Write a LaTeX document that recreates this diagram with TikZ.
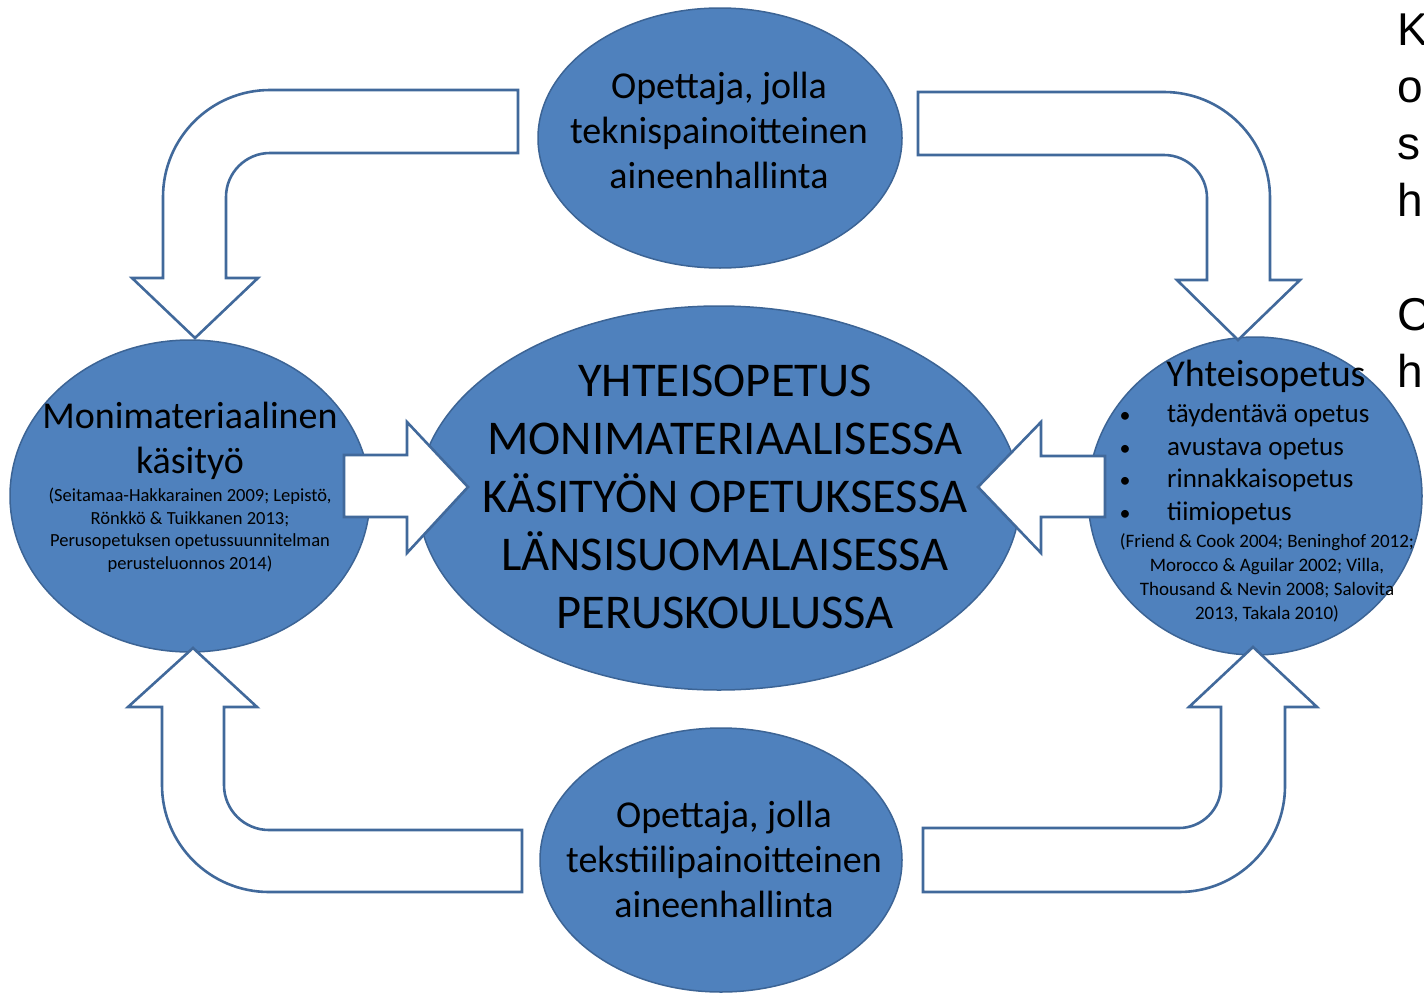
\documentclass[tikz,border=0pt]{standalone}
\usepackage{fontspec}
\setmainfont{Carlito}
\newfontfamily\arialf{Liberation Sans}
\usetikzlibrary{shapes.geometric}
\definecolor{ellfill}{HTML}{4F81BD}
\definecolor{elldraw}{HTML}{3C6495}
\definecolor{arrdraw}{HTML}{41699B}
\tikzset{
  ell/.style={ellipse, fill=ellfill, draw=elldraw, line width=1.5pt, inner sep=0pt},
  arr/.style={fill=white, draw=arrdraw, line width=2.6pt, line join=miter},
  bigtxt/.style={font=\fontsize{38}{45}\selectfont, align=center, text=black, inner sep=0pt},
  hugetxt/.style={font=\fontsize{48.5}{58}\selectfont, align=center, text=black, inner sep=0pt},
  reftxt/.style={font=\fontsize{18.5}{22.5}\selectfont, align=center, text=black, inner sep=0pt},
  rreftxt/.style={font=\fontsize{19}{24}\selectfont, align=center, text=black, inner sep=0pt},
  itemtxt/.style={font=\fontsize{27}{32}\selectfont, text=black, inner sep=0pt, anchor=base west},
  bultxt/.style={font=\fontsize{22}{32}\selectfont, text=black, inner sep=0pt, anchor=base},
  edgetxt/.style={font=\arialf\fontsize{46}{57}\selectfont, text=black, inner sep=0pt, anchor=base west}
}
\begin{document}
\begin{tikzpicture}[x=1pt,y=-1pt]
\useasboundingbox (0,0) rectangle (1424,993);
\clip (0,0) rectangle (1424,993);

% ellipses
\node[ell, minimum width=364pt, minimum height=260pt] (top) at (720,138) {};
\node[ell, minimum width=362pt, minimum height=264pt] (bottom) at (721,860) {};
\node[ell, minimum width=360pt, minimum height=312pt] (left) at (190,496) {};
\node[ell, minimum width=334pt, minimum height=318pt] (right) at (1255,496) {};
\node[ell, minimum width=602pt, minimum height=384pt] (center) at (719,498) {};

% bent arrows
\draw[arr] (518,90) -- (270,90) .. controls (210.9,90) and (163,137.9) .. (163,197)
  -- (163,278) -- (132,278) -- (195,338) -- (258,278) -- (226,278) -- (226,197)
  .. controls (226,172.7) and (245.7,153) .. (270,153) -- (518,153) -- cycle;
\draw[arr] (918,92) -- (1164,92) .. controls (1222.5,92) and (1270,139.5) .. (1270,198)
  -- (1270,280) -- (1300,280) -- (1238,340) -- (1177,280) -- (1207,280) -- (1207,198)
  .. controls (1207,174.3) and (1187.7,155) .. (1164,155) -- (918,155) -- cycle;
\draw[arr] (522,892) -- (269,892) .. controls (209.9,892) and (162,844.1) .. (162,785)
  -- (162,707) -- (128,707) -- (193,648) -- (257,707) -- (224,707) -- (224,785)
  .. controls (224,809.9) and (244.1,830) .. (269,830) -- (522,830) -- cycle;
\draw[arr] (923,892) -- (1179,892) .. controls (1237.5,892) and (1285,844.5) .. (1285,786)
  -- (1285,707) -- (1317,707) -- (1253,647) -- (1189,707) -- (1221,707) -- (1221,786)
  .. controls (1221,809.2) and (1202.2,828) .. (1179,828) -- (923,828) -- cycle;

% block arrows
\draw[arr] (344,455) -- (407,455) -- (407,422) -- (468,487) -- (407,553) -- (407,517) -- (344,517) -- cycle;
\draw[arr] (1105,456) -- (1041,456) -- (1041,422) -- (978,487) -- (1041,553) -- (1041,517) -- (1105,517) -- cycle;

% texts
\node[bigtxt] (toptxt) at (719,130) {Opettaja, jolla\\teknispainoitteinen\\aineenhallinta};
\node[bigtxt] (bottxt) at (724,859) {Opettaja, jolla\\tekstiilipainoitteinen\\aineenhallinta};
\node[hugetxt] (centxt) at (725,497) {YHTEISOPETUS\\MONIMATERIAALISESSA\\KÄSITYÖN OPETUKSESSA\\LÄNSISUOMALAISESSA\\PERUSKOULUSSA};
\node[bigtxt] (lefttitle) at (190,441) {Monimateriaalinen\\käsityö};
\node[reftxt] (leftref) at (190,530) {(Seitamaa-Hakkarainen 2009; Lepistö,\\Rönkkö \& Tuikkanen 2013;\\Perusopetuksen opetussuunnitelman\\perusteluonnos 2014)};
\node[font=\fontsize{38}{45}\selectfont, inner sep=0pt, anchor=base] (righttitle) at (1266,386) {Yhteisopetus};
\node[bultxt] (bu1) at (1125,422) {•};
\node[bultxt] (bu2) at (1125,455) {•};
\node[bultxt] (bu3) at (1125,487) {•};
\node[bultxt] (bu4) at (1125,520) {•};
\node[itemtxt] (it1) at (1167,422) {täydentävä opetus};
\node[itemtxt] (it2) at (1167,455) {avustava opetus};
\node[itemtxt] (it3) at (1167,487) {rinnakkaisopetus};
\node[itemtxt] (it4) at (1167,520) {tiimiopetus};
\node[rreftxt] (rightref) at (1267,578) {(Friend \& Cook 2004; Beninghof 2012;\\Morocco \& Aguilar 2002; Villa,\\Thousand \& Nevin 2008; Salovita\\2013, Takala 2010)};

% cut-off text at right edge (cut off in the reference as well)
\node[edgetxt] (e1) at (1397,45) {K};
\node[edgetxt] (e2) at (1397,102) {o};
\node[edgetxt] (e3) at (1397,159) {s};
\node[edgetxt] (e4) at (1397,216) {h};
\node[edgetxt] (e5) at (1397,330) {C};
\node[edgetxt] (e6) at (1397,387) {h};
\end{tikzpicture}
\end{document}
